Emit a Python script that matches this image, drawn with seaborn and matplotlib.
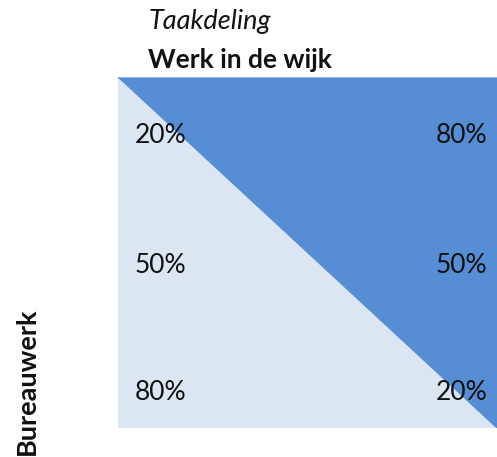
import numpy as np
import seaborn as sns
import matplotlib.pyplot as plt

# share of time per role: top, middle, bottom row
bureau_pct = [20, 50, 80]
wijk_pct = [80, 50, 20]
# split line from top-left to bottom-right (fraction of bureau work)
split_x = [0.0, 1.0]
split_y = [0.0, 1.0]

light = "#DCE6F2"
dark = "#558ED5"

sns.set_theme(style="white")
plt.rcParams['font.family'] = ['Lato', 'DejaVu Sans']

fig = plt.figure(figsize=(4.97, 4.57), dpi=100)
ax = fig.add_axes([118 / 497, 29 / 457, 379 / 497, 351 / 457])
ax.set_facecolor(light)

ax.fill_between(split_x, 0, split_y, color=dark, linewidth=0)
sns.lineplot(x=split_x, y=split_y, color=dark, linewidth=0.8, ax=ax)

ax.set_xlim(0, 1)
ax.set_ylim(1, 0)
ax.set_xticks([])
ax.set_yticks([])
for s in ax.spines.values():
    s.set_visible(False)

row_y = [0.168, 0.538, 0.90]
for y, b, w in zip(row_y, bureau_pct, wijk_pct):
    ax.text(0.043, y, f"{b}%", fontsize=19, ha="left", va="center", color="#111111")
    ax.text(0.975, y, f"{w}%", fontsize=19, ha="right", va="center", color="#111111")

fig.text(148 / 497, 1 - 22 / 457, "Taakdeling", fontsize=19.5, style="italic",
         ha="left", va="center", color="#111111")
fig.text(148 / 497, 1 - 60 / 457, "Werk in de wijk", fontsize=19, fontweight="bold",
         ha="left", va="center", color="#111111")
fig.text(27 / 497, 1 - 381 / 457, "Bureauwerk", fontsize=19.5, fontweight="bold",
         rotation=90, ha="center", va="center", color="#111111")

fig.savefig("out.png", dpi=100)
